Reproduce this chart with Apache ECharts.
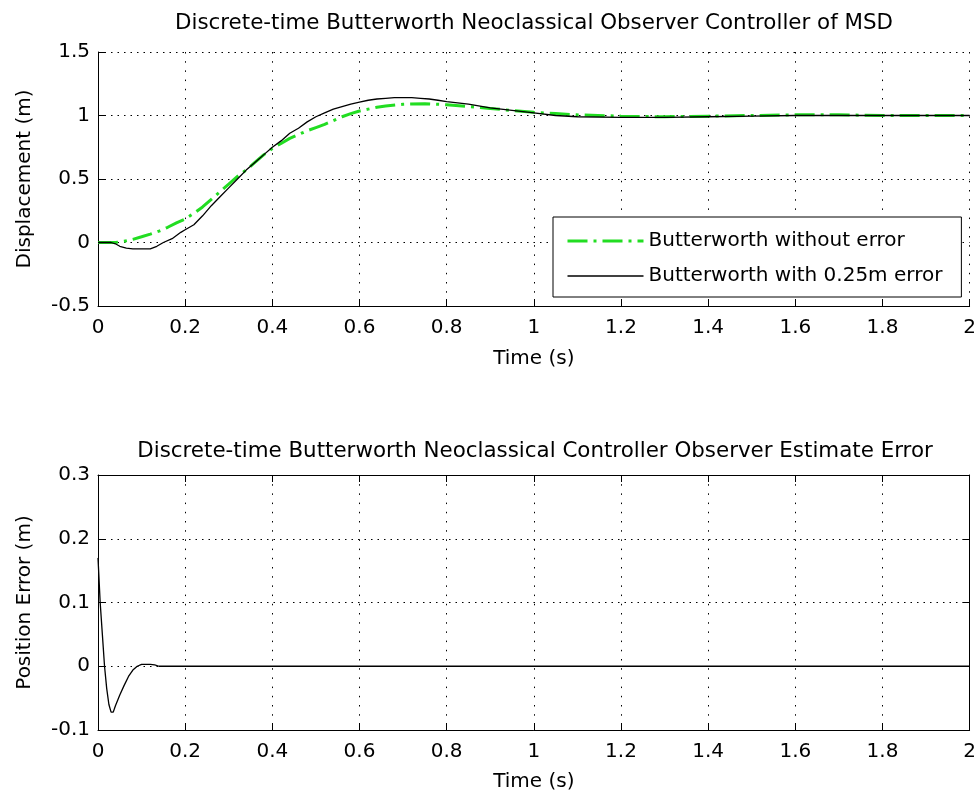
<!DOCTYPE html>
<html><head><meta charset="utf-8">
<script src="https://cdn.jsdelivr.net/npm/echarts@6/dist/echarts.min.js"></script>
<style>html,body{margin:0;padding:0;background:#fff}#c{width:979px;height:797px}</style>
</head><body><div id="c"></div>
<script>
// ---- data ----
const topTitle = 'Discrete-time Butterworth Neoclassical Observer Controller of MSD';
const bottomTitle = 'Discrete-time Butterworth Neoclassical Controller Observer Estimate Error';
const seriesNames = ['Butterworth without error', 'Butterworth with 0.25m error'];
const xTickLabels = ['0','0.2','0.4','0.6','0.8','1','1.2','1.4','1.6','1.8','2'];
const yTickLabelsTop = ['-0.5','0','0.5','1','1.5'];
const yTickLabelsBottom = ['-0.1','0','0.1','0.2','0.3'];

const tGreen = [0,0.04,0.06,0.08,0.1,0.12,0.14,0.16,0.18,0.2,0.22,0.24,0.26,0.28,0.3,0.32,0.34,0.36,0.38,0.4,0.42,0.44,0.46,0.48,0.5,0.52,0.54,0.56,0.58,0.6,0.62,0.64,0.66,0.7,0.75,0.8,0.85,0.9,0.95,1.0,1.05,1.1,1.2,1.3,1.4,1.5,1.6,1.7,1.8,1.9,2.0];
const yGreen = [0,0,0.01,0.025,0.045,0.066,0.09,0.12,0.155,0.185,0.23,0.28,0.34,0.4,0.46,0.52,0.57,0.63,0.69,0.74,0.78,0.82,0.85,0.88,0.905,0.93,0.96,0.99,1.015,1.035,1.05,1.065,1.075,1.088,1.093,1.085,1.07,1.055,1.04,1.025,1.015,1.005,0.995,0.99,0.995,1.0,1.005,1.005,1.0,1.0,1.0];

const tBlack = [0,0.03,0.04,0.05,0.065,0.08,0.1,0.12,0.135,0.15,0.17,0.19,0.2,0.22,0.24,0.26,0.28,0.3,0.32,0.34,0.36,0.38,0.4,0.42,0.44,0.46,0.48,0.5,0.52,0.54,0.56,0.58,0.6,0.62,0.64,0.66,0.68,0.7,0.72,0.74,0.76,0.78,0.8,0.85,0.9,0.95,1.0,1.05,1.1,1.2,1.3,1.4,1.5,1.6,1.7,1.8,1.9,2.0];
const yBlack = [0,0,-0.01,-0.03,-0.045,-0.05,-0.05,-0.05,-0.03,0.0,0.03,0.08,0.1,0.14,0.21,0.29,0.36,0.43,0.5,0.57,0.63,0.69,0.75,0.8,0.86,0.9,0.95,0.99,1.02,1.05,1.07,1.09,1.105,1.12,1.13,1.135,1.14,1.14,1.14,1.135,1.13,1.12,1.11,1.09,1.06,1.04,1.02,1.0,0.99,0.985,0.985,0.99,0.995,1.0,1.0,1.0,1.0,1.0];

const tErr = [0,0.005,0.01,0.015,0.02,0.025,0.03,0.035,0.04,0.05,0.06,0.07,0.08,0.09,0.1,0.11,0.12,0.13,0.14,0.5,1.0,1.5,2.0];
const yErr = [0.17,0.1,0.05,0.0,-0.035,-0.06,-0.072,-0.072,-0.062,-0.045,-0.03,-0.016,-0.006,0.0,0.003,0.003,0.003,0.002,0,0,0,0,0];

// ---- chart ----
const FONT = 'DejaVu Sans';
const pairs = (t, v) => t.map((x, i) => [x, v[i]]);
const dotX = [1.5, 7.7], dotY = [1.5, 5];
const lbl = (arr, min, step) => (v) => { const i = Math.round((v - min) / step); return arr[i] !== undefined ? arr[i] : ''; };
const txt = { color: '#000', fontFamily: FONT, fontSize: 20 };

function mainX(grid, gap) {
  return {
    type: 'value', gridIndex: grid, min: 0, max: 2, interval: 0.2, position: 'bottom',
    axisLine: { show: true, onZero: false, lineStyle: { color: '#000', width: 1 } },
    axisTick: { show: true, inside: true, length: 7, lineStyle: { color: '#000' } },
    axisLabel: Object.assign({ margin: 12, formatter: lbl(xTickLabels, 0, 0.2) }, txt),
    splitLine: { show: true, lineStyle: { color: '#000', type: dotX, width: 1 } },
    name: 'Time (s)', nameLocation: 'middle', nameGap: gap, nameTextStyle: txt
  };
}
function mainY(grid, min, max, step, labels, name) {
  return {
    type: 'value', gridIndex: grid, min: min, max: max, interval: step, position: 'left',
    axisLine: { show: true, onZero: false, lineStyle: { color: '#000', width: 1 } },
    axisTick: { show: true, inside: true, length: 7, lineStyle: { color: '#000' } },
    axisLabel: Object.assign({ margin: 8, formatter: lbl(labels, min, step) }, txt),
    splitLine: { show: true, lineStyle: { color: '#000', type: dotY, width: 1 } },
    name: name, nameLocation: 'middle', nameGap: 63, nameTextStyle: txt
  };
}
const boxAxisCommon = {
  axisLine: { show: true, onZero: false, lineStyle: { color: '#000', width: 1 } },
  axisTick: { show: true, inside: true, length: 7, lineStyle: { color: '#000' } },
  axisLabel: { show: false }, splitLine: { show: false }
};
const titleFont = '21.4px "DejaVu Sans"';

const option = {
  backgroundColor: '#fff',
  animation: false,
  grid: [
    { left: 98, top: 52, width: 872, height: 254 },
    { left: 98, top: 475, width: 872, height: 255 }
  ],
  xAxis: [
    mainX(0, 43), mainX(1, 42),
    Object.assign({ type: 'value', gridIndex: 1, min: 0, max: 2, interval: 0.2, position: 'top' }, boxAxisCommon)
  ],
  yAxis: [
    mainY(0, -0.5, 1.5, 0.5, yTickLabelsTop, 'Displacement (m)'),
    mainY(1, -0.1, 0.3, 0.1, yTickLabelsBottom, 'Position Error (m)'),
    Object.assign({ type: 'value', gridIndex: 1, min: -0.1, max: 0.3, interval: 0.1, position: 'right' }, boxAxisCommon)
  ],
  legend: {
    data: seriesNames, orient: 'vertical', left: 553, top: 217,
    padding: [14, 19, 11, 13], itemWidth: 76, itemHeight: 20, itemGap: 15,
    backgroundColor: '#fff', borderColor: '#000', borderWidth: 1, borderRadius: 0,
    itemStyle: { opacity: 0 },
    lineStyle: { width: 'inherit', type: 'inherit', color: 'inherit' },
    textStyle: txt
  },
  graphic: [
    { type: 'text', x: 534, y: 23, style: { text: topTitle, fill: '#000', font: titleFont, align: 'center', verticalAlign: 'middle', textAlign: 'center', textVerticalAlign: 'middle' } },
    { type: 'text', x: 535, y: 451, style: { text: bottomTitle, fill: '#000', font: titleFont, align: 'center', verticalAlign: 'middle', textAlign: 'center', textVerticalAlign: 'middle' } }
  ],
  series: [
    { name: seriesNames[0], type: 'line', xAxisIndex: 0, yAxisIndex: 0, data: pairs(tGreen, yGreen),
      showSymbol: false, symbol: 'none', smooth: false,
      lineStyle: { color: '#22dd22', width: 3, type: [20, 6, 3, 6] }, itemStyle: { color: '#22dd22' } },
    { name: seriesNames[1], type: 'line', xAxisIndex: 0, yAxisIndex: 0, data: pairs(tBlack, yBlack),
      showSymbol: false, symbol: 'none',
      lineStyle: { color: '#000', width: 1.3 }, itemStyle: { color: '#000' } },
    { name: 'error', type: 'line', xAxisIndex: 1, yAxisIndex: 1, data: pairs(tErr, yErr),
      showSymbol: false, symbol: 'none',
      lineStyle: { color: '#000', width: 1.3 }, itemStyle: { color: '#000' } }
  ]
};
const chart = echarts.init(document.getElementById('c'), null, { renderer: 'canvas' });
chart.setOption(option);
</script>
</body></html>
